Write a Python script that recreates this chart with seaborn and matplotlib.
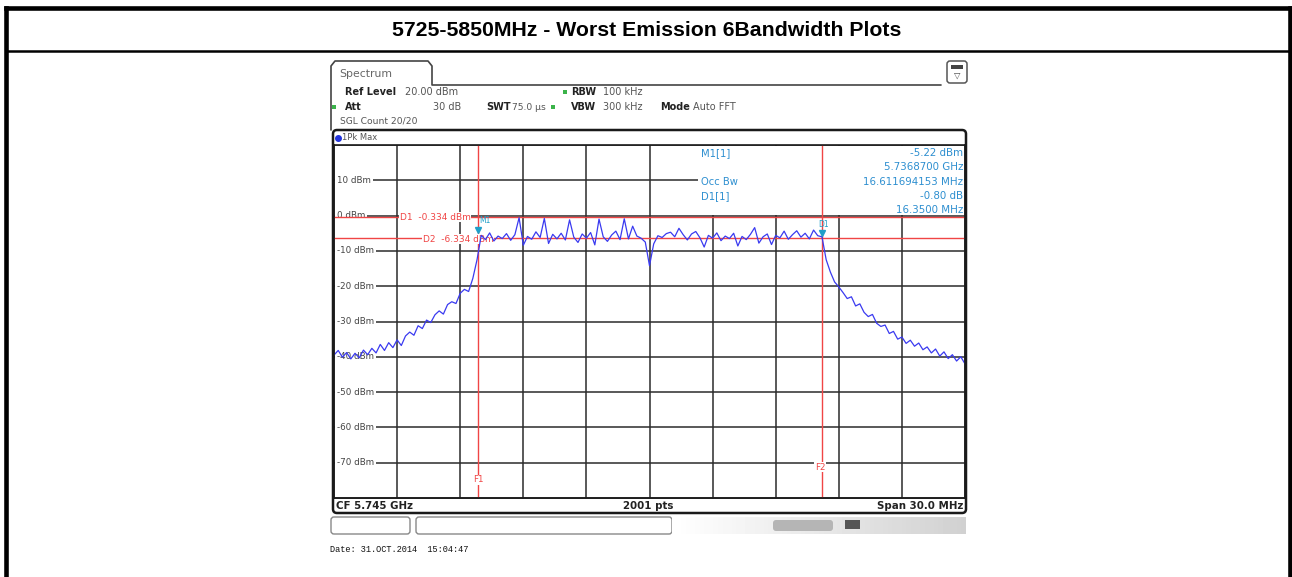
import numpy as np
import matplotlib
matplotlib.use("Agg")
import matplotlib.pyplot as plt
import matplotlib.transforms as mtransforms
from matplotlib.patches import Rectangle, FancyBboxPatch
import seaborn as sns

# ---- data ----
title = "5725-5850MHz - Worst Emission 6Bandwidth Plots"
start_ghz, stop_ghz = 5.730, 5.760
ref_level, bottom_level = 20, -80
level_labels = ["10 dBm", "0 dBm", "-10 dBm", "-20 dBm", "-30 dBm",
                "-40 dBm", "-50 dBm", "-60 dBm", "-70 dBm"]
level_ticks = [10, 0, -10, -20, -30, -40, -50, -60, -70]

# max-hold trace, one value every 0.2 MHz across the 30 MHz span
rise_dbm = [-39.5, -38.2, -40.1, -38.8, -40.6, -39.0, -40.3, -38.1, -39.4, -37.6,
            -38.9, -36.5, -38.2, -36.0, -37.4, -35.2, -36.8, -34.1, -33.0, -33.9,
            -31.2, -32.0, -29.6, -30.3, -28.1, -27.0, -27.9, -25.2, -24.4, -24.9,
            -22.0, -20.9, -21.5, -17.8, -12.5]
top_dbm = [-5.6, -6.8, -4.9, -7.2, -5.8, -6.5, -5.1, -7.0, -5.4, -0.6,
           -8.4, -5.9, -6.7, -4.6, -6.2, -0.8, -7.9, -5.3, -6.6, -5.0,
           -6.9, -1.2, -6.1, -7.6, -5.2, -6.4, -4.8, -8.3, -1.0, -6.0,
           -7.3, -5.5, -4.4, -6.8, -0.9, -6.6, -3.0, -5.8, -6.4, -7.5,
           -14.2, -8.0, -5.7, -6.2, -5.1, -4.7, -6.0, -3.6, -5.4, -6.9,
           -5.2, -4.5, -6.3, -8.9, -5.6, -6.4, -4.9, -7.1, -5.8, -6.5,
           -5.0, -8.6, -5.9, -6.8, -5.3, -3.4, -7.8, -6.0, -5.2, -8.2,
           -5.6, -6.3, -4.4, -6.7, -5.4, -4.3, -6.1, -5.0, -6.6, -4.1,
           -5.7, -6.0]
fall_dbm = [-12.5, -16.0, -18.8, -20.2, -21.8, -23.5, -23.0, -25.6, -25.0, -27.4,
            -28.6, -28.0, -30.5, -31.4, -31.0, -33.4, -32.8, -35.0, -34.4, -36.2,
            -35.3, -37.0, -36.1, -38.0, -37.2, -38.9, -37.8, -39.8, -38.6, -40.5,
            -39.4, -41.2, -40.0, -42.0]
level_dbm = rise_dbm + top_dbm + fall_dbm

d1_line, d2_line = -0.334, -6.334
f1_ghz, f2_ghz = 5.73687, 5.75322
m1_ghz, m1_dbm = 5.7368700, -5.22
d1_dbm = -6.02

marker_names = ["M1[1]", "", "Occ Bw", "D1[1]", ""]
marker_values = ["-5.22 dBm", "5.7368700 GHz", "16.611694153 MHz", "-0.80 dB", "16.3500 MHz"]

W, H = 1292, 577
sns.set_style("white")
plt.rcParams["font.family"] = ["DejaVu Sans"]

fig = plt.figure(figsize=(W / 100, H / 100), dpi=100)
bg = fig.add_axes([0, 0, 1, 1])
bg.set_xlim(0, W)
bg.set_ylim(H, 0)
bg.axis("off")
px = bg.transData

# page frame + title
bg.plot([6.3, 6.3], [H + 5, 7.7], color="black", lw=3.3, solid_capstyle="projecting")
bg.plot([1290, 1290], [H + 5, 7.7], color="black", lw=3.3, solid_capstyle="projecting")
bg.plot([6.3, 1290], [7.7, 7.7], color="black", lw=3.3, solid_capstyle="projecting")
bg.plot([6.3, 1290], [50.5, 50.5], color="black", lw=1.8)
bg.text(647, 30, title, ha="center", va="center", fontsize=15.3, fontweight="bold",
        color="black", family=["Liberation Sans", "DejaVu Sans"])

# instrument chrome
bg.plot([331, 331, 335, 428, 432, 432, 941], [130, 66, 61, 61, 66, 85, 85], color="#444", lw=1.2)
bg.text(339, 74, "Spectrum", fontsize=7.8, color="#666", va="center")
bg.add_patch(FancyBboxPatch((947, 61), 20, 22, boxstyle="round,pad=0,rounding_size=3",
                            fc="white", ec="#555", lw=1.1))
bg.add_patch(Rectangle((951, 65), 12, 4, fc="#444", ec="none"))
bg.text(957, 75, "\u25bd", fontsize=6, ha="center", va="center", color="#444")

green = "#3bb34a"
hs = 7.0
row1, row2 = 92, 107
bg.text(345, row1, "Ref Level", fontsize=hs, fontweight="bold", color="#222", va="center")
bg.text(405, row1, "20.00 dBm", fontsize=hs, color="#555", va="center")
bg.add_patch(Rectangle((563, row1 - 2), 4, 4, fc=green, ec="none"))
bg.text(571, row1, "RBW", fontsize=hs, fontweight="bold", color="#222", va="center")
bg.text(603, row1, "100 kHz", fontsize=hs, color="#555", va="center")
bg.add_patch(Rectangle((332, row2 - 2), 4, 4, fc=green, ec="none"))
bg.text(345, row2, "Att", fontsize=hs, fontweight="bold", color="#222", va="center")
bg.text(461, row2, "30 dB", fontsize=hs, color="#555", va="center", ha="right")
bg.text(486, row2, "SWT", fontsize=hs, fontweight="bold", color="#222", va="center")
bg.text(512, row2, "75.0 \u00b5s", fontsize=6.6, color="#555", va="center")
bg.add_patch(Rectangle((551, row2 - 2), 4, 4, fc=green, ec="none"))
bg.text(571, row2, "VBW", fontsize=hs, fontweight="bold", color="#222", va="center")
bg.text(603, row2, "300 kHz", fontsize=hs, color="#555", va="center")
bg.text(660, row2, "Mode", fontsize=hs, fontweight="bold", color="#222", va="center")
bg.text(693, row2, "Auto FFT", fontsize=hs, color="#555", va="center")
bg.text(340, 121, "SGL Count 20/20", fontsize=6.6, color="#555", va="center")

bg.add_patch(FancyBboxPatch((333, 130), 633, 383, boxstyle="round,pad=0,rounding_size=4",
                            fc="white", ec="#1a1a1a", lw=1.8))
bg.plot([337.5], [137.5], "o", ms=4, color="#2233dd")
bg.text(342, 137.5, "1Pk Max", fontsize=6.0, color="#555", va="center")
bg.plot([334, 965], [498, 498], color="#1a1a1a", lw=1.2)
bs = 7.4
bg.text(336, 506, "CF 5.745 GHz", fontsize=bs, fontweight="bold", color="#222", va="center")
bg.text(648, 506, "2001 pts", fontsize=bs, fontweight="bold", color="#222", va="center", ha="center")
bg.text(963, 506, "Span 30.0 MHz", fontsize=bs, fontweight="bold", color="#222", va="center", ha="right")

# soft-key row under the screen
bg.add_patch(FancyBboxPatch((331, 517), 79, 17, boxstyle="round,pad=0,rounding_size=3",
                            fc="white", ec="#888", lw=1))
bg.add_patch(FancyBboxPatch((416, 517), 256, 17, boxstyle="round,pad=0,rounding_size=3",
                            fc="white", ec="#888", lw=1))
grad = np.linspace(1.0, 0.82, 64)[None, :]
bg.imshow(grad, extent=(672, 966, 534, 517), cmap="gray", vmin=0, vmax=1, aspect="auto", zorder=1)
bg.add_patch(FancyBboxPatch((773, 520), 60, 11, boxstyle="round,pad=0,rounding_size=3",
                            fc="#b5b5b5", ec="none", zorder=2))
bg.add_patch(Rectangle((845, 520), 15, 9, fc="#555", ec="none", zorder=2))
bg.text(330, 550, "Date: 31.OCT.2014  15:04:47", fontsize=6.2, va="center",
        family=["Liberation Mono", "DejaVu Sans Mono"], color="#111")

# ---- trace diagram ----
ax = fig.add_axes([334 / W, (H - 498) / H, 631 / W, 353 / H])
ax.set_facecolor("white")
freq_ghz = np.linspace(start_ghz, stop_ghz, len(level_dbm))
trace = {"freq": freq_ghz, "level": level_dbm}
ax.set_xlim(start_ghz, stop_ghz)
ax.set_ylim(bottom_level, ref_level)
ax.set_xticks(np.linspace(start_ghz, stop_ghz, 11))
ax.set_yticks(np.arange(bottom_level, ref_level + 1, 10))
ax.set_xticklabels([])
ax.set_yticklabels([])
ax.tick_params(length=0)
ax.grid(True, color="#2b2b2b", lw=1.1)
ax.set_axisbelow(True)
for s in ax.spines.values():
    s.set_color("#1a1a1a")
    s.set_linewidth(1.2)
    s.set_zorder(6)

for lab, lv in zip(level_labels, level_ticks):
    ypx = 145 + (ref_level - lv) / 100 * 353
    ax.text(336.8, ypx, lab, transform=px, fontsize=6.3, color="#444", va="center",
            bbox=dict(fc="white", ec="none", pad=1.3), zorder=2)

# marker info panel
ax.add_patch(Rectangle((698, 145.5), 266, 69, transform=px, fc="white", ec="none", zorder=2.5))
cyan = "#2e8fd0"
for i, (n, v) in enumerate(zip(marker_names, marker_values)):
    ypx = 153 + i * 14.3
    if n:
        ax.text(701, ypx, n, transform=px, fontsize=7.2, color=cyan, va="center", zorder=2.6,
                bbox=dict(fc="white", ec="none", pad=0.4))
    ax.text(963, ypx, v, transform=px, fontsize=7.4, color=cyan, va="center", ha="right", zorder=2.6)

red = "#f04545"
ax.axhline(d1_line, color=red, lw=1.0, zorder=3)
ax.axhline(d2_line, color=red, lw=1.0, zorder=3)
ax.axvline(f1_ghz, color=red, lw=1.0, zorder=3)
ax.axvline(f2_ghz, color=red, lw=1.0, zorder=3)
ax.text(400, 217, "D1  -0.334 dBm", transform=px, fontsize=6.5, color=red, va="center",
        bbox=dict(fc="white", ec="none", pad=0.4), zorder=3.2)
ax.text(423, 239, "D2  -6.334 dBm", transform=px, fontsize=6.5, color=red, va="center",
        bbox=dict(fc="white", ec="none", pad=0.4), zorder=3.2)
ax.text(478, 480, "F1", transform=px, fontsize=6.3, color=red, va="center", ha="center",
        bbox=dict(fc="white", ec="none", pad=0.3), zorder=3.2)
ax.text(820, 467, "F2", transform=px, fontsize=6.3, color=red, va="center", ha="center",
        bbox=dict(fc="white", ec="none", pad=0.3), zorder=3.2)

sns.lineplot(data=trace, x="freq", y="level", ax=ax, color="#3a3af0", lw=0.9,
             zorder=4, legend=False)
ax.set_xlabel("")
ax.set_ylabel("")

up = mtransforms.offset_copy(ax.transData, fig=fig, y=4, units="dots")
ax.plot([m1_ghz], [m1_dbm], "v", ms=5, color="#1f9fc8", transform=up, zorder=5)
ax.text(m1_ghz, m1_dbm, "M1", transform=mtransforms.offset_copy(ax.transData, fig=fig, x=1, y=11, units="dots"),
        fontsize=5.5, color="#1f9fc8", zorder=5)
ax.plot([f2_ghz], [d1_dbm], "v", ms=5, color="#1f9fc8", transform=up, zorder=5)
ax.text(f2_ghz, d1_dbm, "D1", transform=mtransforms.offset_copy(ax.transData, fig=fig, x=-4, y=10, units="dots"),
        fontsize=5.5, color="#1f9fc8", zorder=5)

fig.savefig("out.png", dpi=100)
